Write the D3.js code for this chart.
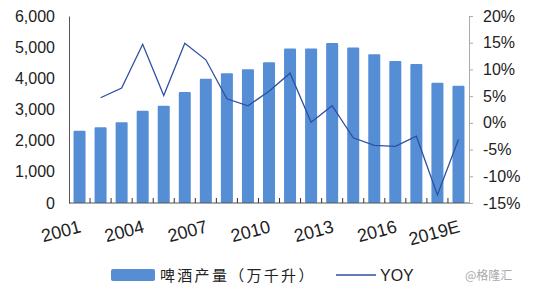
<!DOCTYPE html>
<meta charset="utf-8">
<script src="https://d3js.org/d3.v7.min.js"></script>
<style>
  body { margin: 0; background: white; }
  text { font-family: "Liberation Sans", Arial, sans-serif; }
</style>
<body>
<div id="chart"></div>
<script>
var years = ["2001","2002","2003","2004","2005","2006","2007","2008","2009","2010",
             "2011","2012","2013","2014","2015","2016","2017","2018","2019E"];
var output = [2320, 2430, 2590, 2960, 3120, 3560, 3990, 4160, 4290, 4520,
              4960, 4960, 5130, 4990, 4770, 4560, 4460, 3860, 3760];
var yoy = [null, 4.7, 6.5, 14.7, 5.1, 14.9, 11.8, 4.5, 3.2, 5.9,
           9.3, 0.1, 3.2, -2.8, -4.2, -4.4, -2.5, -13.5, -3.1];
var leftTicks = [0, 1000, 2000, 3000, 4000, 5000, 6000];
var rightTicks = [-15, -10, -5, 0, 5, 10, 15, 20];
var shownYears = ["2001","2004","2007","2010","2013","2016","2019E"];

var W = 535, H = 288;
var mLeft = 69, mRight = 469, mTop = 16, mBottom = 203;

var svg = d3.select("#chart").append("svg")
    .attr("width", W).attr("height", H);

var x = d3.scaleBand().domain(years).range([mLeft, mRight]).paddingInner(0.43).paddingOuter(0.215);
var xb = d3.scaleBand().domain(years).range([mLeft, mRight]);
var y = d3.scaleLinear().domain([0, 6000]).range([mBottom, mTop]);
var y2 = d3.scaleLinear().domain([-15, 20]).range([mBottom, mTop]);

// bars
svg.append("g").selectAll("rect")
  .data(output)
  .enter().append("rect")
    .attr("x", function(d, i) { return x(years[i]); })
    .attr("y", function(d) { return y(d); })
    .attr("width", x.bandwidth())
    .attr("height", function(d) { return y(0) - y(d); })
    .attr("rx", 1)
    .style("fill", "#558ed5");

// yoy line
var line = d3.line()
  .defined(function(d) { return d != null; })
  .x(function(d, i) { return xb(years[i]) + xb.bandwidth() / 2; })
  .y(function(d) { return y2(d); });
svg.append("path")
  .datum(yoy)
  .attr("d", line)
  .attr("fill", "none")
  .attr("stroke", "#2e4fa3")
  .attr("stroke-width", 1.3);

// left axis
var la = svg.append("g")
  .attr("transform", "translate(" + mLeft + ",0)")
  .call(d3.axisLeft(y).tickValues(leftTicks).tickSize(0).tickPadding(14).tickFormat(d3.format(",")));
la.select(".domain").attr("stroke", "#555");
la.selectAll("text").style("font-size", "16px").attr("fill", "#222");

// right axis
var ra = svg.append("g")
  .attr("transform", "translate(" + mRight + ",0)")
  .call(d3.axisRight(y2).tickValues(rightTicks).tickSize(4).tickPadding(10).tickFormat(function(d) { return d + "%"; }));
ra.select(".domain").attr("stroke", "#aaa");
ra.selectAll(".tick line").attr("stroke", "#aaa");
ra.selectAll("text").style("font-size", "16px").attr("fill", "#222");

// bottom axis
svg.append("line")
  .attr("x1", mLeft).attr("x2", mRight)
  .attr("y1", mBottom).attr("y2", mBottom)
  .attr("stroke", "#555");
svg.append("g").selectAll("line")
  .data(years.slice(1))
  .enter().append("line")
    .attr("x1", function(d) { return xb(d); })
    .attr("x2", function(d) { return xb(d); })
    .attr("y1", mBottom).attr("y2", mBottom - 5)
    .attr("stroke", "#333");

svg.append("g").selectAll("text")
  .data(shownYears)
  .enter().append("text")
    .attr("transform", function(d) {
      return "translate(" + (xb(d) + xb.bandwidth() / 2 + 2.5) + "," + (mBottom + 29) + ") rotate(-15)";
    })
    .attr("text-anchor", "end")
    .style("font-size", "18px")
    .attr("fill", "#222")
    .text(function(d) { return d; });

// legend
svg.append("rect")
  .attr("x", 111).attr("y", 269).attr("width", 44).attr("height", 12)
  .attr("rx", 2).style("fill", "#558ed5");
svg.append("text")
  .attr("x", 160).attr("y", 281)
  .style("font-size", "15px")
  .style("font-family", "'Noto Sans CJK SC', sans-serif")
  .attr("fill", "#222")
  .attr("letter-spacing", "2.3")
  .text("啤酒产量（万千升）");
svg.append("line")
  .attr("x1", 336).attr("x2", 376).attr("y1", 275).attr("y2", 275)
  .attr("stroke", "#2e4fa3").attr("stroke-width", 1.3);
svg.append("text")
  .attr("x", 380).attr("y", 281)
  .style("font-size", "16px")
  .attr("fill", "#222")
  .text("YOY");
svg.append("text")
  .attr("x", 465).attr("y", 280)
  .style("font-size", "12px")
  .style("font-family", "'Noto Sans CJK SC', sans-serif")
  .attr("fill", "#aaa")
  .text("@格隆汇");
</script>
</body>
